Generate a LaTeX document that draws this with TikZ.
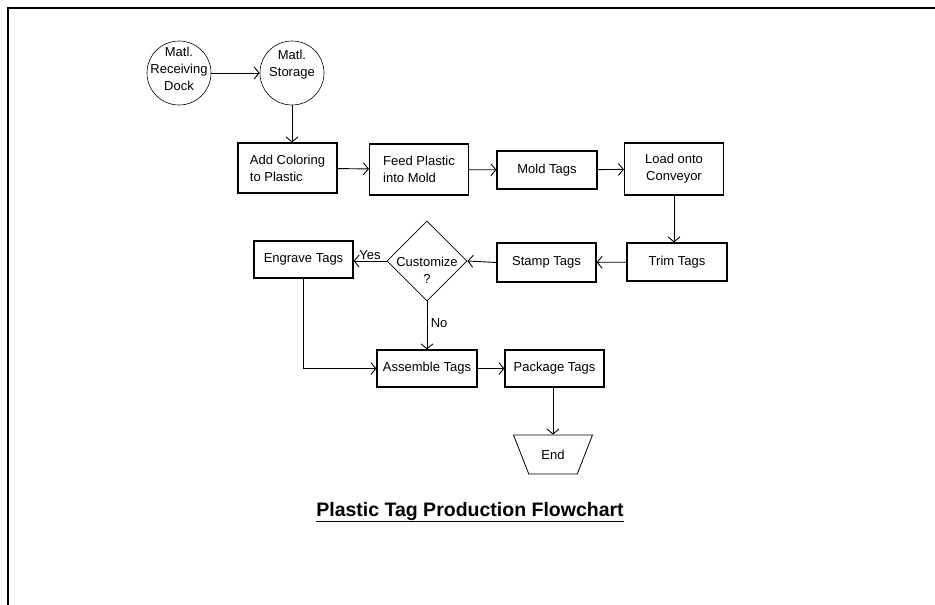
\documentclass[tikz,border=0pt]{standalone}
\usepackage{fontspec}
\setmainfont{Liberation Sans}
\usetikzlibrary{shapes.geometric,arrows.meta}

\newcommand{\boxfont}{\fontsize{13}{17}\selectfont}

\tikzset{
  procbox/.style={draw, line width=1.1pt, minimum width=99pt, minimum height=38pt, inner sep=2pt, font=\boxfont},
  storecirc/.style={draw, circle, line width=0.6pt, minimum size=64pt, inner sep=0pt},
  decide/.style={draw, diamond, line width=0.8pt, minimum width=80pt, minimum height=80pt, inner sep=0pt},
  endshape/.style={draw, trapezium, shape border rotate=180, trapezium stretches=true, trapezium angle=60, minimum width=79pt, minimum height=39pt, line width=0.8pt, font=\boxfont},
  flow/.style={-{Straight Barb[length=5pt,width=12pt]}, line width=0.9pt},
}

\begin{document}
\begin{tikzpicture}[x=1pt, y=-1pt]
    % Page size and frame
    \useasboundingbox (0,0) rectangle (935,605);
    \draw[line width=2pt] (8,605) -- (8,8) -- (935,8);

    % Material circles
    \node[storecirc, label={[align=center, font=\boxfont, yshift=4pt]center:{Matl.\\Receiving\\Dock}}] (dock) at (179,73) {};
    \node[storecirc, label={[align=center, font=\boxfont, yshift=8pt]center:{Matl.\\Storage}}] (store) at (292,73) {};

    % First row of steps
    \node[procbox, minimum height=50pt, align=left] (color) at (287.5,168) {Add Coloring\\to Plastic};
    \node[procbox, minimum height=51pt, align=left] (feed) at (419,169.5) {Feed Plastic\\into Mold};
    \node[procbox, minimum width=100pt] (mold) at (547,170) {Mold Tags};
    \node[procbox, minimum height=52pt, align=center] (load) at (674,169) {Load onto\\Conveyor};

    % Second row of steps
    \node[procbox, minimum width=100pt] (trim) at (677,262) {Trim Tags};
    \node[procbox, minimum height=39pt] (stamp) at (546.5,262.5) {Stamp Tags};
    \node[decide, label={[align=center, font=\boxfont, yshift=-9pt]center:{Customize\\?}}] (cust) at (427,261) {};
    \node[procbox, minimum height=37pt] (engrave) at (303.5,259.5) {Engrave Tags};

    % Third row and end
    \node[procbox, minimum width=100pt, minimum height=37pt] (assemble) at (427,368.5) {Assemble Tags};
    \node[procbox, minimum height=37pt] (package) at (554.5,368.5) {Package Tags};
    \node[endshape] (end) at (553,454.5) {End};

    % Connectors
    \draw[flow] (dock.east) -- (store.west);
    \draw[flow] (store.south) -- (color.north -| store.south);
    \draw[flow] (color) -- (feed);
    \draw[flow] (feed) -- (mold);
    \draw[flow] (mold) -- (load);
    \draw[flow] (load.south) -- (load.south |- trim.north);
    \draw[flow] (trim) -- (stamp);
    \draw[flow] (stamp.west) -- (cust.east);
    \draw[flow] (cust.west) -- node[above, inner sep=1pt, font=\boxfont] {Yes} (cust.west -| engrave.east);
    \draw[flow] (cust.south) -- node[right, pos=0.45, font=\boxfont] {No} (assemble.north);
    \draw[flow] (engrave.south) |- (assemble.west);
    \draw[flow] (assemble) -- (package);
    \draw[flow] (package.south -| end.north) -- (end.north);

    % Title
    \node[font=\fontsize{19.5}{23}\selectfont\bfseries] (title) at (470,512) {\underline{Plastic Tag Production Flowchart}};
\end{tikzpicture}
\end{document}
